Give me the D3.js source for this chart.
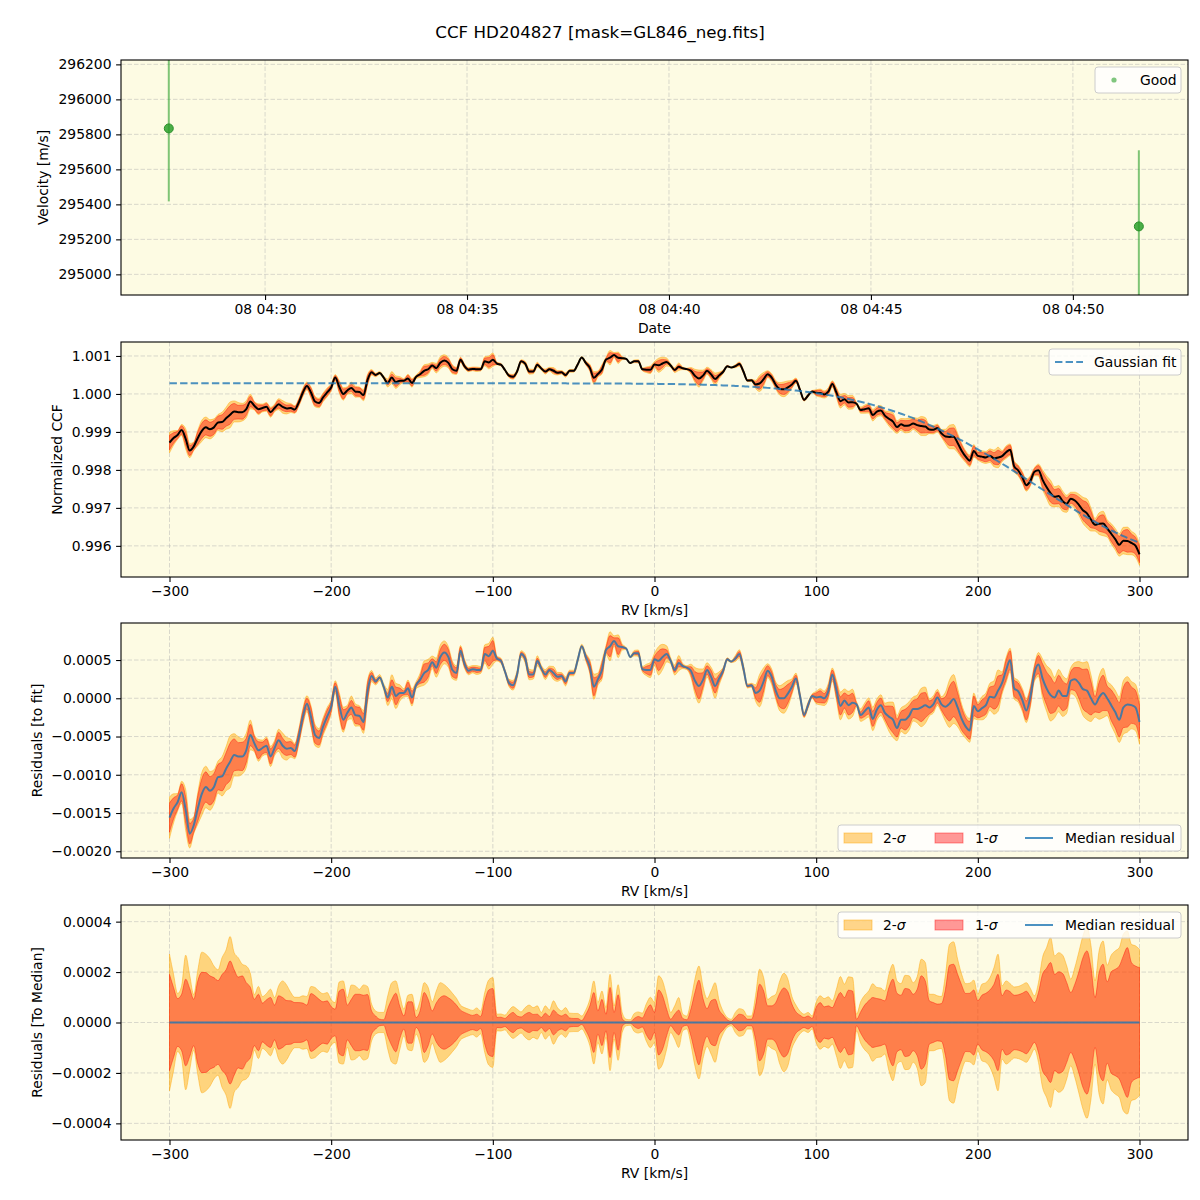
<!DOCTYPE html>
<html><head><meta charset="utf-8">
<script src="https://cdn.jsdelivr.net/npm/d3@7"></script>
<style>body{margin:0;background:#fff} text{font-family:"DejaVu Sans",sans-serif}</style>
</head><body><svg id="c" width="1200" height="1200"></svg>
<script>
// ---------------- data ----------------
const obsTimes = ["2023-01-08T04:27:37Z", "2023-01-08T04:51:38Z"];
const obsVel = [295834, 295274];
const obsErr = [417, 435];
const velTicks = [295000, 295200, 295400, 295600, 295800, 296000, 296200];

const rvTicks = [-300, -200, -100, 0, 100, 200, 300];
const ccfTicks = [0.996, 0.997, 0.998, 0.999, 1.000, 1.001];
const resTicks = [-0.0020, -0.0015, -0.0010, -0.0005, 0.0000, 0.0005];
const medTicks = [-0.0004, -0.0002, 0.0000, 0.0002, 0.0004];

const rv = [
-300,-297.5,-295,-292.5,-290,-287.5,-285,-282.5,-280,-277.5,
-275,-272.5,-270,-267.5,-265,-262.5,-260,-257.5,-255,-252.5,
-250,-247.5,-245,-242.5,-240,-237.5,-235,-232.5,-230,-227.5,
-225,-222.5,-220,-217.5,-215,-212.5,-210,-207.5,-205,-202.5,
-200,-197.5,-195,-192.5,-190,-187.5,-185,-182.5,-180,-177.5,
-175,-172.5,-170,-167.5,-165,-162.5,-160,-157.5,-155,-152.5,
-150,-147.5,-145,-142.5,-140,-137.5,-135,-132.5,-130,-127.5,
-125,-122.5,-120,-117.5,-115,-112.5,-110,-107.5,-105,-102.5,
-100,-97.5,-95,-92.5,-90,-87.5,-85,-82.5,-80,-77.5,
-75,-72.5,-70,-67.5,-65,-62.5,-60,-57.5,-55,-52.5,
-50,-47.5,-45,-42.5,-40,-37.5,-35,-32.5,-30,-27.5,
-25,-22.5,-20,-17.5,-15,-12.5,-10,-7.5,-5,-2.5,
0,2.5,5,7.5,10,12.5,15,17.5,20,22.5,
25,27.5,30,32.5,35,37.5,40,42.5,45,47.5,
50,52.5,55,57.5,60,62.5,65,67.5,70,72.5,
75,77.5,80,82.5,85,87.5,90,92.5,95,97.5,
100,102.5,105,107.5,110,112.5,115,117.5,120,122.5,
125,127.5,130,132.5,135,137.5,140,142.5,145,147.5,
150,152.5,155,157.5,160,162.5,165,167.5,170,172.5,
175,177.5,180,182.5,185,187.5,190,192.5,195,197.5,
200,202.5,205,207.5,210,212.5,215,217.5,220,222.5,
225,227.5,230,232.5,235,237.5,240,242.5,245,247.5,
250,252.5,255,257.5,260,262.5,265,267.5,270,272.5,
275,277.5,280,282.5,285,287.5,290,292.5,295,297.5,
300];

// Gaussian fit curve
const fit = [
1.00028,1.00028,1.00028,1.00028,1.00028,1.00028,1.00028,1.00028,1.00028,1.00028,
1.00028,1.00028,1.00028,1.00028,1.00028,1.00028,1.00028,1.00028,1.00028,1.00028,
1.00028,1.00028,1.00028,1.00028,1.00028,1.00028,1.00028,1.00028,1.00028,1.00028,
1.00028,1.00028,1.00028,1.00028,1.00028,1.00028,1.00028,1.00028,1.00028,1.00028,
1.00028,1.00028,1.00028,1.00028,1.00028,1.00028,1.00028,1.00028,1.00028,1.00028,
1.00028,1.00028,1.00028,1.00028,1.00028,1.00028,1.00028,1.00028,1.00028,1.00028,
1.00028,1.00028,1.00028,1.00028,1.00028,1.00028,1.00028,1.00028,1.00028,1.00028,
1.00028,1.00028,1.00028,1.00028,1.00028,1.00028,1.00028,1.00028,1.00028,1.00028,
1.00028,1.00028,1.00028,1.00028,1.00028,1.00028,1.00028,1.00028,1.00028,1.00028,
1.00028,1.00028,1.00028,1.00028,1.00028,1.00028,1.000279,1.000279,1.000279,1.000278,
1.000278,1.000278,1.000277,1.000277,1.000277,1.000276,1.000276,1.000275,1.000275,1.000274,
1.000274,1.000273,1.000273,1.000272,1.000272,1.000271,1.000270,1.000269,1.000268,1.000267,
1.000266,1.000265,1.000263,1.000262,1.000260,1.000259,1.000257,1.000255,1.000253,1.000251,
1.000248,1.000246,1.000243,1.000240,1.000236,1.000233,1.000229,1.000225,1.000221,1.000217,
1.000212,1.000207,1.000201,1.000195,1.000189,1.000182,1.000175,1.000168,1.000160,1.000151,
1.000142,1.000133,1.000123,1.000112,1.000101,1.000089,1.000077,1.000064,1.000050,1.000035,
1.000020,1.000004,0.999987,0.999969,0.999951,0.999931,0.999911,0.999890,0.999868,0.999844,
0.999820,0.999795,0.999769,0.999741,0.999713,0.999683,0.999652,0.999620,0.999587,0.999552,
0.999517,0.999480,0.999442,0.999402,0.999362,0.999319,0.999276,0.999231,0.999186,0.999139,
0.999091,0.999041,0.998990,0.998938,0.998885,0.998830,0.998775,0.998718,0.998660,0.998601,
0.998541,0.998480,0.998419,0.998356,0.998292,0.998228,0.998163,0.998097,0.998030,0.997963,
0.997895,0.997827,0.997759,0.997691,0.997622,0.997554,0.997485,0.997417,0.997348,0.997280,
0.997212,0.997144,0.997077,0.997011,0.996946,0.996882,0.996818,0.996756,0.996694,0.996634,
0.996575,0.996518,0.996462,0.996409,0.996356,0.996306,0.996257,0.996211,0.996166,0.996124,
0.996083];

// median residual to the fit
const resid = [
-0.00156,-0.00144,-0.00136,-0.00123,-0.00146,-0.00177,-0.00166,-0.00144,-0.00125,-0.00116,
-0.00121,-0.00116,-0.00103,-0.00102,-0.00092,-0.00083,-0.00074,-0.00076,-0.00076,-0.00068,
-0.00048,-0.00059,-0.00068,-0.00065,-0.00062,-0.00076,-0.00065,-0.00055,-0.00062,-0.00066,
-0.00065,-0.00069,-0.00050,-0.00024,-0.00007,-0.00024,-0.00048,-0.00052,-0.00037,-0.00024,
-0.00011,0.00015,-0.00009,-0.00028,-0.00019,-0.00012,-0.00022,-0.00023,-0.00031,0.00009,
0.00029,0.00022,0.00027,0.00015,0.00001,0.00015,0.00003,0.00007,0.00007,0.00013,
0.00001,0.00017,0.00024,0.00033,0.00037,0.00047,0.00040,0.00054,0.00060,0.00054,
0.00037,0.00033,0.00062,0.00045,0.00036,0.00038,0.00037,0.00037,0.00058,0.00055,
0.00062,0.00052,0.00049,0.00035,0.00020,0.00017,0.00031,0.00058,0.00052,0.00031,
0.00031,0.00049,0.00039,0.00031,0.00037,0.00033,0.00028,0.00029,0.00022,0.00033,
0.00033,0.00050,0.00068,0.00054,0.00041,0.00015,0.00025,0.00037,0.00063,0.00068,
0.00075,0.00068,0.00067,0.00065,0.00054,0.00059,0.00059,0.00038,0.00037,0.00037,
0.00051,0.00049,0.00054,0.00058,0.00049,0.00037,0.00046,0.00042,0.00040,0.00036,
0.00023,0.00016,0.00024,0.00037,0.00028,0.00016,0.00026,0.00036,0.00051,0.00048,
0.00052,0.00058,0.00039,0.00016,0.00017,0.00007,0.00010,0.00022,0.00036,0.00028,
0.00010,0.00000,0.00000,0.00006,0.00015,0.00026,0.00003,-0.00022,-0.00009,0.00003,
0.00001,0.00002,0.00000,0.00009,0.00031,0.00011,-0.00010,-0.00003,-0.00009,-0.00006,
-0.00008,-0.00022,-0.00017,-0.00012,-0.00027,-0.00015,-0.00009,-0.00019,-0.00024,-0.00028,
-0.00039,-0.00028,-0.00028,-0.00023,-0.00014,-0.00014,-0.00012,-0.00009,-0.00012,-0.00008,
0.00001,-0.00008,-0.00011,-0.00007,-0.00001,-0.00012,-0.00027,-0.00037,-0.00042,-0.00010,
-0.00017,-0.00013,-0.00009,0.00002,0.00001,0.00010,0.00020,0.00037,0.00050,0.00013,
0.00009,-0.00002,-0.00016,0.00002,0.00033,0.00044,0.00026,0.00013,0.00004,0.00001,
0.00010,0.00003,0.00003,0.00023,0.00025,0.00020,0.00012,0.00010,0.00000,-0.00008,
0.00001,0.00007,0.00000,-0.00009,-0.00018,-0.00028,-0.00012,-0.00008,-0.00009,-0.00012,
-0.00031];

// 1-sigma half width
const sig1 = [
0.000191,0.000139,0.000095,0.000112,0.000172,0.000135,0.000092,0.000165,0.000199,0.000198,
0.000185,0.000178,0.000166,0.000190,0.000209,0.000244,0.000209,0.000180,0.000185,0.000158,
0.000140,0.000092,0.000112,0.000077,0.000090,0.000099,0.000069,0.000106,0.000099,0.000087,
0.000086,0.000079,0.000079,0.000077,0.000069,0.000115,0.000106,0.000092,0.000082,0.000086,
0.000063,0.000053,0.000125,0.000132,0.000069,0.000092,0.000112,0.000112,0.000108,0.000111,
0.000046,0.000026,0.000013,0.000011,0.000055,0.000092,0.000116,0.000063,0.000026,0.000082,
0.000082,0.000020,0.000046,0.000119,0.000092,0.000046,0.000077,0.000099,0.000106,0.000098,
0.000086,0.000069,0.000049,0.000040,0.000033,0.000028,0.000033,0.000024,0.000086,0.000129,
0.000135,0.000020,0.000021,0.000016,0.000030,0.000040,0.000026,0.000022,0.000033,0.000040,
0.000032,0.000033,0.000020,0.000037,0.000024,0.000049,0.000034,0.000026,0.000033,0.000018,
0.000016,0.000016,0.000008,0.000032,0.000066,0.000119,0.000046,0.000092,0.000033,0.000139,
0.000040,0.000110,0.000016,0.000003,0.000003,0.000016,0.000024,0.000018,0.000049,0.000070,
0.000040,0.000129,0.000106,0.000053,0.000013,0.000033,0.000049,0.000016,0.000011,0.000053,
0.000119,0.000168,0.000095,0.000055,0.000086,0.000092,0.000049,0.000029,0.000011,0.000005,
0.000020,0.000033,0.000029,0.000013,0.000013,0.000066,0.000152,0.000125,0.000066,0.000066,
0.000079,0.000116,0.000137,0.000122,0.000073,0.000042,0.000029,0.000020,0.000026,0.000016,
0.000060,0.000079,0.000062,0.000066,0.000059,0.000092,0.000119,0.000099,0.000128,0.000125,
0.000013,0.000042,0.000069,0.000086,0.000099,0.000095,0.000092,0.000086,0.000139,0.000172,
0.000116,0.000108,0.000135,0.000132,0.000112,0.000132,0.000185,0.000165,0.000086,0.000079,
0.000073,0.000075,0.000132,0.000227,0.000231,0.000191,0.000148,0.000115,0.000116,0.000129,
0.000086,0.000108,0.000116,0.000129,0.000152,0.000191,0.000106,0.000129,0.000122,0.000108,
0.000110,0.000116,0.000124,0.000103,0.000079,0.000119,0.000191,0.000215,0.000238,0.000191,
0.000201,0.000194,0.000158,0.000119,0.000152,0.000201,0.000257,0.000284,0.000218,0.000099,
0.000198,0.000231,0.000161,0.000201,0.000211,0.000224,0.000264,0.000297,0.000238,0.000224,
0.000218];

// 2-sigma half width
const sig2 = [
0.000271,0.000191,0.000115,0.000145,0.000267,0.000187,0.000110,0.000207,0.000279,0.000271,
0.000253,0.000224,0.000209,0.000257,0.000288,0.000341,0.000277,0.000257,0.000231,0.000224,
0.000195,0.000110,0.000143,0.000103,0.000115,0.000132,0.000099,0.000145,0.000165,0.000148,
0.000119,0.000100,0.000100,0.000106,0.000103,0.000143,0.000139,0.000124,0.000114,0.000119,
0.000090,0.000079,0.000161,0.000165,0.000098,0.000149,0.000145,0.000132,0.000149,0.000143,
0.000073,0.000046,0.000040,0.000040,0.000106,0.000158,0.000165,0.000106,0.000053,0.000108,
0.000112,0.000046,0.000086,0.000158,0.000139,0.000082,0.000125,0.000158,0.000150,0.000135,
0.000116,0.000096,0.000069,0.000059,0.000053,0.000048,0.000058,0.000045,0.000119,0.000169,
0.000178,0.000033,0.000034,0.000029,0.000048,0.000063,0.000053,0.000042,0.000059,0.000069,
0.000059,0.000066,0.000040,0.000066,0.000050,0.000086,0.000059,0.000046,0.000059,0.000037,
0.000036,0.000036,0.000026,0.000050,0.000092,0.000165,0.000079,0.000125,0.000059,0.000191,
0.000066,0.000150,0.000040,0.000013,0.000011,0.000036,0.000042,0.000037,0.000075,0.000100,
0.000080,0.000185,0.000165,0.000106,0.000040,0.000066,0.000099,0.000033,0.000026,0.000086,
0.000172,0.000224,0.000143,0.000095,0.000125,0.000158,0.000086,0.000044,0.000020,0.000013,
0.000040,0.000055,0.000050,0.000026,0.000026,0.000106,0.000211,0.000178,0.000092,0.000103,
0.000112,0.000165,0.000195,0.000172,0.000103,0.000069,0.000045,0.000033,0.000040,0.000026,
0.000080,0.000106,0.000095,0.000102,0.000086,0.000132,0.000182,0.000152,0.000181,0.000178,
0.000033,0.000082,0.000108,0.000125,0.000154,0.000139,0.000137,0.000125,0.000191,0.000231,
0.000165,0.000154,0.000187,0.000185,0.000158,0.000182,0.000251,0.000238,0.000112,0.000112,
0.000106,0.000103,0.000191,0.000310,0.000320,0.000251,0.000191,0.000154,0.000156,0.000168,
0.000112,0.000152,0.000158,0.000178,0.000218,0.000271,0.000145,0.000165,0.000154,0.000141,
0.000143,0.000150,0.000158,0.000135,0.000106,0.000158,0.000257,0.000297,0.000337,0.000264,
0.000277,0.000267,0.000224,0.000172,0.000218,0.000280,0.000343,0.000380,0.000304,0.000165,
0.000284,0.000323,0.000227,0.000267,0.000284,0.000297,0.000350,0.000363,0.000310,0.000304,
0.000290];

// ---------------- drawing ----------------
const svg = d3.select("#c");
const L = 121, R = 1188, FS = 13.9;
const BG = "#fdfbe3";
const C_ORANGE = "#ffa500", C_RED = "#ff0000", C_BLUE = "#1f77b4";
const idx = d3.range(rv.length);
const ccf = idx.map(i => fit[i] + resid[i]);
const zero = idx.map(() => 0);

svg.append("rect").attr("width", 1200).attr("height", 1200).attr("fill", "#fff");
svg.append("text").attr("x", 600).attr("y", 38).attr("text-anchor", "middle")
  .attr("font-size", 16.7).text("CCF HD204827 [mask=GL846_neg.fits]");

function makePanel(id, top, bot, x, y, xTicks, yTicks, xFmt, yFmt, xLabel, yLabel, yLabelX) {
  const g = svg.append("g");
  g.append("rect").attr("x", L).attr("y", top).attr("width", R - L).attr("height", bot - top).attr("fill", BG);
  svg.append("clipPath").attr("id", id).append("rect")
    .attr("x", L).attr("y", top).attr("width", R - L).attr("height", bot - top);
  // grid
  const grid = g.append("g").attr("stroke", "#b0b0b0").attr("stroke-opacity", 0.6)
    .attr("stroke-width", 0.8).attr("stroke-dasharray", "4.5,2");
  xTicks.forEach(t => grid.append("line").attr("x1", x(t)).attr("x2", x(t)).attr("y1", top).attr("y2", bot));
  yTicks.forEach(t => grid.append("line").attr("x1", L).attr("x2", R).attr("y1", y(t)).attr("y2", y(t)));
  const data = g.append("g").attr("clip-path", `url(#${id})`);
  // axes
  const ax = g.append("g").attr("transform", `translate(0,${bot})`)
    .call(d3.axisBottom(x).tickValues(xTicks).tickFormat(xFmt).tickSize(4.9).tickPadding(4.6));
  const ay = g.append("g").attr("transform", `translate(${L},0)`)
    .call(d3.axisLeft(y).tickValues(yTicks).tickFormat(yFmt).tickSize(4.9).tickPadding(4.6));
  [ax, ay].forEach(a => {
    a.select(".domain").remove();
    a.attr("font-family", null).attr("font-size", null);
    a.selectAll("text").attr("font-size", FS).attr("fill", "#000");
    a.selectAll("line").attr("stroke", "#000").attr("stroke-width", 1.1);
  });
  g.append("text").attr("x", (L + R) / 2).attr("y", bot + 38).attr("text-anchor", "middle")
    .attr("font-size", FS).text(xLabel);
  g.append("text").attr("transform", `translate(${yLabelX},${(top + bot) / 2}) rotate(-90)`)
    .attr("text-anchor", "middle").attr("dy", "0.35em").attr("font-size", FS).text(yLabel);
  const frame = () => g.append("rect").attr("x", L).attr("y", top).attr("width", R - L)
    .attr("height", bot - top).attr("fill", "none").attr("stroke", "#000").attr("stroke-width", 1.1);
  return { g, data, frame };
}

function legendBox(g, x0, y0, w, h) {
  g.append("rect").attr("x", x0).attr("y", y0).attr("width", w).attr("height", h).attr("rx", 3)
    .attr("fill", "#fff").attr("fill-opacity", 0.8).attr("stroke", "#cccccc").attr("stroke-width", 1);
}

function sigmaLegend(g, y0) {
  const x0 = 838, h = 26, cy = y0 + h / 2;
  legendBox(g, x0, y0, 343, h);
  g.append("rect").attr("x", 844).attr("y", cy - 5).attr("width", 28).attr("height", 10)
    .attr("fill", C_ORANGE).attr("fill-opacity", 0.45).attr("stroke", C_ORANGE).attr("stroke-opacity", 0.45);
  const t1 = g.append("text").attr("x", 883).attr("y", cy).attr("dy", "0.35em").attr("font-size", FS);
  t1.append("tspan").text("2-"); t1.append("tspan").attr("font-style", "italic").text("σ");
  g.append("rect").attr("x", 935).attr("y", cy - 5).attr("width", 28).attr("height", 10)
    .attr("fill", C_RED).attr("fill-opacity", 0.4).attr("stroke", C_RED).attr("stroke-opacity", 0.4);
  const t2 = g.append("text").attr("x", 975).attr("y", cy).attr("dy", "0.35em").attr("font-size", FS);
  t2.append("tspan").text("1-"); t2.append("tspan").attr("font-style", "italic").text("σ");
  g.append("line").attr("x1", 1025).attr("x2", 1053).attr("y1", cy).attr("y2", cy)
    .attr("stroke", C_BLUE).attr("stroke-opacity", 0.8).attr("stroke-width", 2);
  g.append("text").attr("x", 1065).attr("y", cy).attr("dy", "0.35em").attr("font-size", FS).text("Median residual");
}

function bands(data, x, y, base) {
  const area = s => d3.area().curve(d3.curveMonotoneX).x(i => x(rv[i]))
    .y0(i => y(base[i] - s[i])).y1(i => y(base[i] + s[i]));
  data.append("path").datum(idx).attr("d", area(sig2)).attr("fill", C_ORANGE).attr("fill-opacity", 0.45)
    .attr("stroke", C_ORANGE).attr("stroke-opacity", 0.45).attr("stroke-width", 1);
  data.append("path").datum(idx).attr("d", area(sig1)).attr("fill", C_RED).attr("fill-opacity", 0.4)
    .attr("stroke", C_RED).attr("stroke-opacity", 0.4).attr("stroke-width", 1);
}
const lineOf = (x, y, arr) => d3.line().curve(d3.curveMonotoneX).x(i => x(rv[i])).y(i => y(arr[i]));

// ---- Panel 1 ----
const parseT = d3.utcParse("%Y-%m-%dT%H:%M:%SZ");
const xT = d3.scaleUtc().domain([parseT("2023-01-08T04:26:26Z"), parseT("2023-01-08T04:52:51Z")]).range([L, R]);
const yV = d3.scaleLinear().domain([294882, 296225]).range([295, 60]);
const timeTicks = xT.ticks(d3.utcMinute.every(5));
const p1 = makePanel("cp1", 60, 295, xT, yV, timeTicks, velTicks, d3.utcFormat("%d %H:%M"), d3.format("d"),
  "Date", "Velocity [m/s]", 43);
obsTimes.forEach((t, i) => {
  const px = xT(parseT(t));
  p1.data.append("line").attr("x1", px).attr("x2", px)
    .attr("y1", yV(obsVel[i] - obsErr[i])).attr("y2", yV(obsVel[i] + obsErr[i]))
    .attr("stroke", "#2ca02c").attr("stroke-opacity", 0.6).attr("stroke-width", 2);
  p1.data.append("circle").attr("cx", px).attr("cy", yV(obsVel[i])).attr("r", 4.5)
    .attr("fill", "#2ca02c").attr("fill-opacity", 0.85).attr("stroke", "#2a8f2a").attr("stroke-width", 1);
});
p1.frame();
legendBox(p1.g, 1095, 67, 86, 26);
p1.g.append("circle").attr("cx", 1114).attr("cy", 80).attr("r", 2.6).attr("fill", "#2ca02c").attr("fill-opacity", 0.6);
p1.g.append("text").attr("x", 1140).attr("y", 80).attr("dy", "0.35em").attr("font-size", FS).text("Good");

// ---- Panel 2 ----
const xRV = d3.scaleLinear().domain([-330, 330]).range([L, R]);
const yC = d3.scaleLinear().domain([0.99518, 1.001368]).range([577, 342]);
const p2 = makePanel("cp2", 342, 577, xRV, yC, rvTicks, ccfTicks, d3.format("d"), d3.format(".3f"),
  "RV [km/s]", "Normalized CCF", 57);
bands(p2.data, xRV, yC, ccf);
p2.data.append("path").datum(idx).attr("d", lineOf(xRV, yC, ccf)).attr("fill", "none")
  .attr("stroke", "#000").attr("stroke-width", 2);
p2.data.append("path").datum(idx).attr("d", lineOf(xRV, yC, fit)).attr("fill", "none")
  .attr("stroke", C_BLUE).attr("stroke-opacity", 0.8).attr("stroke-width", 2).attr("stroke-dasharray", "7.4,3.2");
p2.frame();
legendBox(p2.g, 1049, 349, 132, 26);
p2.g.append("line").attr("x1", 1055).attr("x2", 1083).attr("y1", 362).attr("y2", 362)
  .attr("stroke", C_BLUE).attr("stroke-opacity", 0.8).attr("stroke-width", 2).attr("stroke-dasharray", "7.4,3.2");
p2.g.append("text").attr("x", 1094).attr("y", 362).attr("dy", "0.35em").attr("font-size", FS).text("Gaussian fit");

// ---- Panel 3 ----
const yR = d3.scaleLinear().domain([-0.002088, 0.000984]).range([858, 623]);
const p3 = makePanel("cp3", 623, 858, xRV, yR, rvTicks, resTicks, d3.format("d"), d3.format(".4f"),
  "RV [km/s]", "Residuals [to fit]", 37);
bands(p3.data, xRV, yR, resid);
p3.data.append("path").datum(idx).attr("d", lineOf(xRV, yR, resid)).attr("fill", "none")
  .attr("stroke", C_BLUE).attr("stroke-opacity", 0.8).attr("stroke-width", 2);
p3.frame();
sigmaLegend(p3.g, 825);

// ---- Panel 4 ----
const yM = d3.scaleLinear().domain([-0.000466, 0.000466]).range([1140, 905]);
const p4 = makePanel("cp4", 905, 1140, xRV, yM, rvTicks, medTicks, d3.format("d"), d3.format(".4f"),
  "RV [km/s]", "Residuals [To Median]", 37);
bands(p4.data, xRV, yM, zero);
p4.data.append("path").datum(idx).attr("d", lineOf(xRV, yM, zero)).attr("fill", "none")
  .attr("stroke", C_BLUE).attr("stroke-opacity", 0.8).attr("stroke-width", 2);
p4.frame();
sigmaLegend(p4.g, 912);
</script></body></html>
